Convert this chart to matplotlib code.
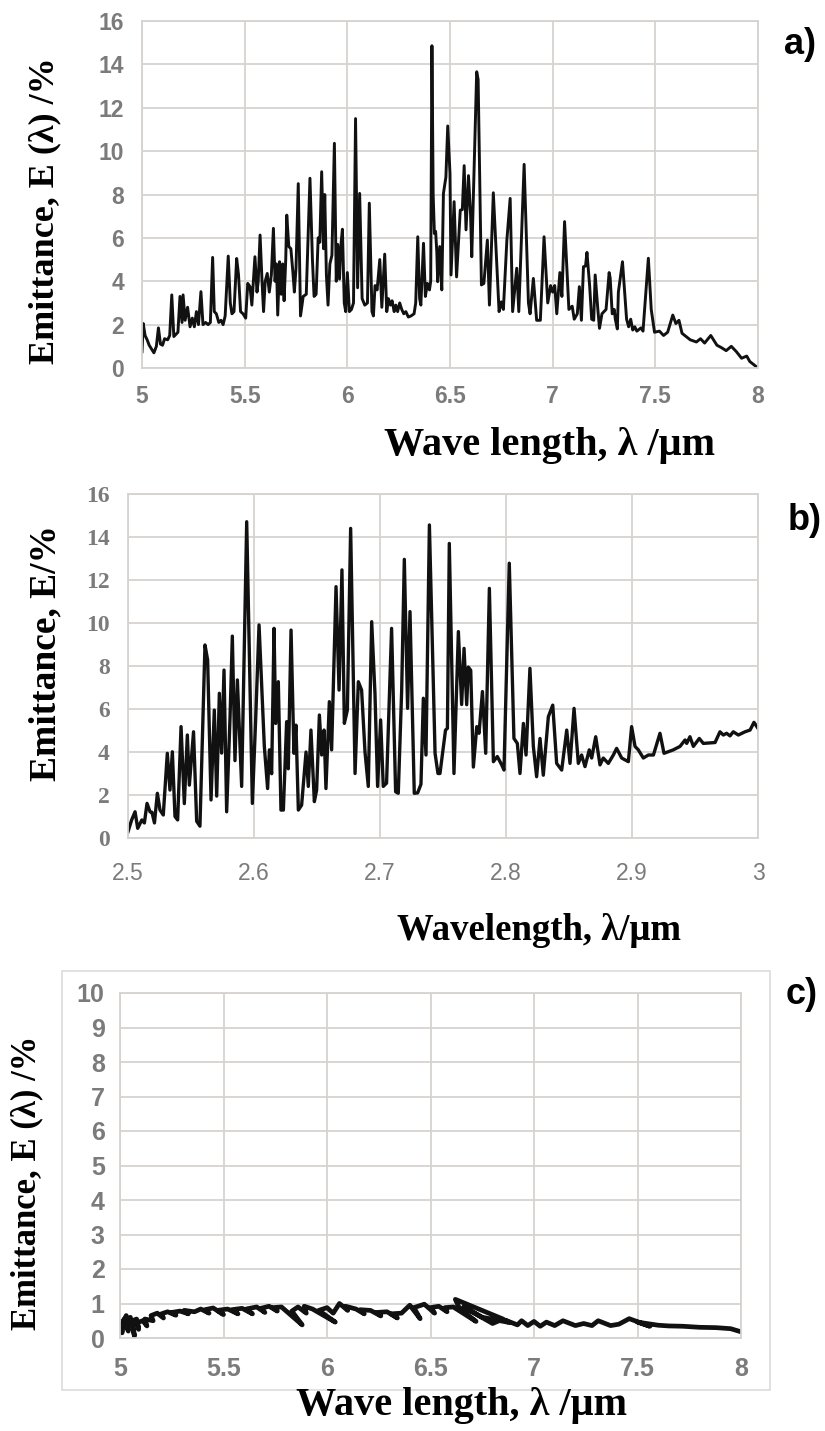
import matplotlib.pyplot as plt
from matplotlib.patches import Rectangle

# ---- panel a: emittance, 5-8 um ----
a_wl = [5.000, 5.006, 5.015, 5.025, 5.035, 5.045, 5.058, 5.070, 5.080, 5.090,
        5.100, 5.110, 5.125, 5.135, 5.145, 5.155, 5.165, 5.175, 5.185, 5.195,
        5.200, 5.210, 5.222, 5.234, 5.245, 5.255, 5.265, 5.275, 5.287, 5.297,
        5.310, 5.322, 5.333, 5.344, 5.352, 5.362, 5.374, 5.385, 5.395, 5.405,
        5.420, 5.430, 5.438, 5.448, 5.461, 5.470, 5.480, 5.492, 5.505, 5.515,
        5.526, 5.535, 5.550, 5.560, 5.566, 5.575, 5.585, 5.592, 5.600, 5.610,
        5.620, 5.630, 5.640, 5.648, 5.655, 5.661, 5.670, 5.678, 5.685, 5.692,
        5.700, 5.705, 5.715, 5.725, 5.735, 5.742, 5.750, 5.761, 5.772, 5.785,
        5.800, 5.818, 5.830, 5.838, 5.848, 5.858, 5.866, 5.875, 5.884, 5.890,
        5.898, 5.906, 5.915, 5.925, 5.937, 5.946, 5.953, 5.962, 5.968, 5.976,
        5.985, 5.992, 6.000, 6.010, 6.020, 6.030, 6.040, 6.050, 6.060, 6.072,
        6.085, 6.098, 6.107, 6.120, 6.127, 6.135, 6.145, 6.158, 6.168, 6.182,
        6.192, 6.200, 6.210, 6.218, 6.228, 6.236, 6.245, 6.255, 6.265, 6.275,
        6.285, 6.297, 6.310, 6.325, 6.333, 6.343, 6.352, 6.358, 6.371, 6.380,
        6.390, 6.400, 6.406, 6.412, 6.418, 6.424, 6.430, 6.436, 6.440, 6.450,
        6.460, 6.468, 6.480, 6.489, 6.500, 6.505, 6.520, 6.532, 6.550, 6.560,
        6.569, 6.578, 6.590, 6.600, 6.606, 6.630, 6.637, 6.653, 6.665, 6.682,
        6.692, 6.711, 6.739, 6.750, 6.760, 6.777, 6.793, 6.805, 6.825, 6.835,
        6.861, 6.882, 6.890, 6.906, 6.922, 6.940, 6.958, 6.976, 6.990, 7.000,
        7.010, 7.020, 7.035, 7.045, 7.058, 7.079, 7.095, 7.105, 7.120, 7.130,
        7.140, 7.150, 7.160, 7.167, 7.180, 7.190, 7.200, 7.207, 7.220, 7.228,
        7.240, 7.250, 7.260, 7.275, 7.280, 7.290, 7.300, 7.305, 7.315, 7.320,
        7.340, 7.360, 7.370, 7.380, 7.390, 7.400, 7.410, 7.430, 7.440, 7.466,
        7.480, 7.496, 7.520, 7.540, 7.560, 7.585, 7.600, 7.615, 7.630, 7.650,
        7.670, 7.700, 7.720, 7.740, 7.770, 7.800, 7.820, 7.845, 7.870, 7.895,
        7.920, 7.945, 7.960, 8.000]
a_em = [0.75, 2.05, 1.5, 1.3, 1.05, 0.9, 0.7, 1.0, 1.85, 1.1,
        1.05, 1.35, 1.3, 1.5, 3.37, 1.45, 1.55, 1.65, 3.3, 2.1,
        3.37, 2.2, 2.8, 1.9, 2.3, 1.9, 2.6, 2.0, 3.52, 2.0,
        2.1, 2.0, 2.1, 5.1, 2.6, 2.5, 2.1, 2.2, 2.0, 2.4,
        5.16, 3.0, 2.5, 2.6, 5.05, 4.3, 2.6, 2.5, 2.3, 3.9,
        3.75, 2.9, 5.13, 3.5, 4.0, 6.13, 3.9, 2.6, 4.0, 4.36,
        3.5, 4.3, 6.44, 4.0, 4.8, 2.44, 4.9, 3.4, 4.8, 3.1,
        5.0, 7.05, 5.6, 5.5, 4.4, 3.5, 4.6, 8.5, 2.4, 3.3,
        3.4, 8.75, 5.0, 3.3, 3.4, 6.0, 5.8, 9.05, 5.5, 8.0,
        4.3, 2.9, 4.8, 5.2, 10.36, 4.0, 5.7, 4.1, 5.6, 6.4,
        3.0, 2.6, 4.4, 2.6, 2.7, 3.0, 11.5, 3.7, 8.05, 3.2,
        2.9, 3.0, 7.6, 2.6, 2.4, 3.8, 3.6, 5.0, 2.8, 5.25,
        2.6, 3.2, 2.9, 3.1, 2.6, 2.9, 2.6, 3.0, 2.7, 2.5,
        2.6, 2.35, 2.4, 2.5, 3.0, 6.05, 3.2, 2.9, 5.75, 3.3,
        3.9, 3.6, 4.0, 14.86, 8.0, 6.2, 6.3, 5.3, 3.98, 5.6,
        3.6, 8.05, 8.8, 11.16, 8.96, 4.29, 7.67, 4.2, 7.28, 7.3,
        9.33, 6.37, 8.87, 7.1, 5.13, 13.66, 13.3, 3.83, 3.9, 5.9,
        2.9, 8.08, 2.6, 3.05, 2.7, 5.9, 7.82, 2.6, 4.6, 2.6,
        9.39, 3.0, 2.5, 4.13, 2.2, 2.2, 6.05, 3.0, 3.8, 3.5,
        3.8, 2.5, 4.4, 3.3, 6.75, 2.7, 2.85, 2.25, 2.5, 3.75,
        2.2, 4.67, 4.7, 5.33, 3.8, 2.25, 2.2, 4.29, 2.7, 1.83,
        2.5, 2.6, 2.7, 4.4, 4.15, 2.5, 2.7, 2.25, 1.8, 3.5,
        4.9, 2.25, 1.9, 2.25, 1.75, 1.9, 1.7, 1.85, 1.7, 5.06,
        2.7, 1.65, 1.7, 1.5, 1.65, 2.44, 2.05, 2.2, 1.6, 1.45,
        1.3, 1.2, 1.35, 1.15, 1.5, 1.05, 0.95, 0.8, 1.0, 0.75,
        0.45, 0.55, 0.3, 0.0]

# ---- panel b: emittance, 2.5-3 um ----
b_wl = [2.5000, 2.5029, 2.5056, 2.5077, 2.5110, 2.5130, 2.5151, 2.5175, 2.5190, 2.5210,
        2.5233, 2.5254, 2.5280, 2.5312, 2.5333, 2.5352, 2.5373, 2.5394, 2.5421, 2.5447,
        2.5471, 2.5487, 2.5520, 2.5545, 2.5571, 2.5611, 2.5632, 2.5659, 2.5685, 2.5704,
        2.5725, 2.5743, 2.5762, 2.5783, 2.5810, 2.5828, 2.5849, 2.5868, 2.5902, 2.5942,
        2.5987, 2.6013, 2.6040, 2.6082, 2.6108, 2.6122, 2.6140, 2.6159, 2.6172, 2.6193,
        2.6214, 2.6233, 2.6259, 2.6272, 2.6294, 2.6317, 2.6333, 2.6352, 2.6378, 2.6413,
        2.6431, 2.6452, 2.6479, 2.6497, 2.6519, 2.6537, 2.6556, 2.6571, 2.6598, 2.6616,
        2.6651, 2.6675, 2.6698, 2.6717, 2.6741, 2.6767, 2.6802, 2.6828, 2.6854, 2.6881,
        2.6907, 2.6934, 2.6960, 2.6981, 2.7005, 2.7026, 2.7052, 2.7092, 2.7124, 2.7145,
        2.7172, 2.7193, 2.7219, 2.7238, 2.7272, 2.7299, 2.7325, 2.7344, 2.7365, 2.7392,
        2.7437, 2.7460, 2.7476, 2.7520, 2.7535, 2.7550, 2.7587, 2.7622, 2.7648, 2.7667,
        2.7688, 2.7701, 2.7720, 2.7741, 2.7768, 2.7786, 2.7813, 2.7839, 2.7868, 2.7900,
        2.7931, 2.7966, 2.7984, 2.8026, 2.8063, 2.8090, 2.8111, 2.8138, 2.8159, 2.8190,
        2.8217, 2.8243, 2.8270, 2.8296, 2.8336, 2.8371, 2.8402, 2.8442, 2.8482, 2.8508,
        2.8540, 2.8574, 2.8600, 2.8627, 2.8661, 2.8680, 2.8712, 2.8746, 2.8772, 2.8812,
        2.8852, 2.8878, 2.8918, 2.8971, 2.8997, 2.9024, 2.9050, 2.9090, 2.9130, 2.9170,
        2.9222, 2.9254, 2.9328, 2.9381, 2.9421, 2.9434, 2.9460, 2.9487, 2.9534, 2.9566,
        2.9659, 2.9698, 2.9725, 2.9751, 2.9778, 2.9804, 2.9844, 2.9897, 2.9937, 2.9968,
        3.0000]
b_em = [0.29, 0.84, 1.22, 0.45, 0.84, 0.70, 1.61, 1.22, 1.20, 0.70,
        2.08, 1.30, 1.07, 3.94, 2.23, 4.01, 1.00, 0.84, 5.18, 1.60,
        4.79, 2.46, 4.94, 0.78, 0.55, 8.98, 8.28, 1.77, 5.95, 1.95,
        6.73, 3.95, 7.81, 1.22, 5.64, 9.39, 3.60, 7.35, 2.40, 14.71,
        1.61, 5.49, 9.91, 4.26, 2.30, 4.10, 2.99, 9.75, 5.33, 7.27,
        1.30, 1.30, 5.41, 3.22, 9.67, 3.94, 5.25, 1.30, 1.53, 4.00,
        2.40, 5.02, 1.69, 2.23, 5.72, 3.86, 5.02, 2.30, 6.34, 4.10,
        11.69, 6.88, 12.47, 5.33, 5.95, 14.40, 3.00, 7.27, 6.88, 4.00,
        2.40, 10.06, 6.73, 2.40, 5.49, 2.40, 2.55, 9.75, 2.15, 2.08,
        6.88, 12.96, 6.03, 10.53, 2.08, 2.10, 2.50, 6.50, 3.86, 14.56,
        3.94, 3.00, 3.00, 5.02, 5.10, 13.70, 3.00, 9.60, 6.21, 8.82,
        6.20, 7.95, 7.80, 3.30, 5.18, 4.87, 6.81, 3.94, 11.61, 3.55,
        3.79, 3.40, 3.16, 12.78, 4.63, 4.40, 3.00, 5.33, 3.86, 7.89,
        4.26, 2.85, 4.63, 2.92, 5.64, 6.18, 3.47, 3.16, 5.02, 3.47,
        6.03, 3.47, 3.86, 3.32, 4.10, 3.72, 4.71, 3.40, 3.72, 3.47,
        3.86, 4.17, 3.72, 3.55, 5.18, 4.26, 4.10, 3.72, 3.86, 3.86,
        4.87, 3.94, 4.10, 4.26, 4.56, 4.40, 4.71, 4.26, 4.63, 4.40,
        4.44, 4.94, 4.79, 4.87, 4.75, 4.94, 4.79, 4.94, 5.02, 5.38,
        5.10]

# ---- panel c: emittance, 5-8 um (scan order, not sorted) ----
c_wl = [5.00, 5.01, 5.02, 5.005, 5.03, 5.04, 5.025, 5.05, 5.07, 5.06,
        5.08, 5.09, 5.085, 5.11, 5.13, 5.12, 5.16, 5.15, 5.18, 5.21,
        5.20, 5.23, 5.27, 5.25, 5.29, 5.33, 5.31, 5.36, 5.39, 5.43,
        5.41, 5.45, 5.50, 5.47, 5.52, 5.57, 5.54, 5.59, 5.64, 5.61,
        5.66, 5.70, 5.68, 5.72, 5.76, 5.74, 5.78, 5.88, 5.83, 5.86,
        5.90, 5.89, 5.93, 6.04, 5.96, 6.00, 6.03, 6.06, 6.10, 6.09,
        6.14, 6.18, 6.16, 6.21, 6.26, 6.24, 6.29, 6.34, 6.31, 6.36,
        6.40, 6.45, 6.42, 6.47, 6.52, 6.50, 6.54, 6.58, 6.57, 6.61,
        6.72, 6.64, 6.62, 6.85, 6.80, 6.66, 6.75, 6.88, 6.86, 6.92,
        6.94, 6.97, 7.00, 7.03, 7.06, 7.10, 7.14, 7.20, 7.24, 7.28,
        7.31, 7.37, 7.41, 7.46, 7.56, 7.50, 7.60, 7.65, 7.72, 7.80,
        7.88, 7.95, 8.00]
c_em = [0.40, 0.15, 0.55, 0.30, 0.65, 0.20, 0.45, 0.60, 0.05, 0.50,
        0.55, 0.25, 0.45, 0.50, 0.35, 0.55, 0.50, 0.65, 0.72, 0.58,
        0.70, 0.76, 0.66, 0.74, 0.78, 0.70, 0.80, 0.76, 0.84, 0.72,
        0.82, 0.87, 0.68, 0.80, 0.84, 0.70, 0.82, 0.86, 0.70, 0.84,
        0.90, 0.74, 0.86, 0.92, 0.78, 0.88, 0.90, 0.38, 0.78, 0.90,
        0.72, 0.92, 0.84, 0.46, 0.80, 0.88, 0.72, 1.00, 0.80, 0.92,
        0.84, 0.70, 0.82, 0.80, 0.64, 0.74, 0.76, 0.58, 0.70, 0.72,
        0.95, 0.56, 0.88, 0.98, 0.72, 0.88, 0.92, 0.76, 0.88, 0.90,
        0.48, 0.86, 1.12, 0.55, 0.42, 0.90, 0.60, 0.45, 0.52, 0.38,
        0.50, 0.36, 0.48, 0.34, 0.46, 0.36, 0.50, 0.36, 0.42, 0.36,
        0.50, 0.36, 0.40, 0.56, 0.34, 0.46, 0.37, 0.35, 0.34, 0.31,
        0.30, 0.27, 0.18]

grey = '#7b7b7b'
gridc = '#d6d2cf'
line = '#111111'
W, H = 825, 1431


def box(l, t, r, b):
    return [l / W, 1 - b / H, (r - l) / W, (b - t) / H]


def style(ax, xlim, ylim, xt, yt):
    ax.set_xlim(xlim)
    ax.set_ylim(ylim)
    ax.set_xticks(xt)
    ax.set_yticks(yt)
    ax.grid(True, color=gridc, linewidth=1.3)
    ax.set_axisbelow(True)
    for s in ax.spines.values():
        s.set_color(gridc)
        s.set_linewidth(1.3)
    ax.tick_params(length=0, colors=grey)


fig = plt.figure(figsize=(W / 100, H / 100), dpi=100)

# a)
ax = fig.add_axes(box(142, 21, 758, 368))
ax.plot(a_wl, a_em, color=line, linewidth=2.1)
style(ax, (5, 8), (0, 16), [5, 5.5, 6, 6.5, 7, 7.5, 8], range(0, 17, 2))
ax.set_xticklabels(['5', '5.5', '6', '6.5', '7', '7.5', '8'])
ax.tick_params(axis='y', pad=13)
ax.tick_params(axis='x', pad=12)
for t in ax.get_xticklabels() + ax.get_yticklabels():
    t.set_fontfamily('Liberation Sans')
    t.set_fontweight('bold')
    t.set_fontsize(16.5)
fig.text(550 / W, 1 - 446 / H, 'Wave length, \u03bb /\u03bcm', family='Liberation Serif',
         weight='bold', size=29, ha='center', va='center')
fig.text(45 / W, 1 - 211 / H, 'Emittance, E (\u03bb) /%', family='Liberation Serif',
         weight='bold', size=26, ha='center', va='center', rotation=90)
fig.text(800 / W, 1 - 45 / H, 'a)', family='Liberation Sans', weight='bold', size=26,
         ha='center', va='center')

# b)
ax = fig.add_axes(box(128, 494, 758, 838))
ax.plot(b_wl, b_em, color=line, linewidth=2.4)
style(ax, (2.5, 3.0), (0, 16), [2.5, 2.6, 2.7, 2.8, 2.9, 3.0], range(0, 17, 2))
ax.set_xticklabels(['2.5', '2.6', '2.7', '2.8', '2.9', '3'])
ax.tick_params(axis='y', pad=13)
ax.tick_params(axis='x', pad=17)
for t in ax.get_xticklabels():
    t.set_fontfamily('Liberation Sans')
    t.set_fontsize(16.5)
for t in ax.get_yticklabels():
    t.set_fontfamily('Liberation Serif')
    t.set_fontweight('bold')
    t.set_fontsize(17)
fig.text(539 / W, 1 - 930 / H, 'Wavelength, \u03bb/\u03bcm', family='Liberation Serif',
         weight='bold', size=26.5, ha='center', va='center')
fig.text(46 / W, 1 - 653 / H, 'Emittance, E/%', family='Liberation Serif',
         weight='bold', size=27, ha='center', va='center', rotation=90)
fig.text(805 / W, 1 - 520 / H, 'b)', family='Liberation Sans', weight='bold', size=26,
         ha='center', va='center')

# c)
fig.patches.append(Rectangle((62 / W, 1 - 1390 / H), 708 / W, 419 / H, fill=False,
                             edgecolor='#dcdcdc', linewidth=1.2, transform=fig.transFigure))
ax = fig.add_axes(box(120, 993, 741, 1338))
ax.plot(c_wl, c_em, color=line, linewidth=3.4)
style(ax, (5, 8), (0, 10), [5, 5.5, 6, 6.5, 7, 7.5, 8], range(0, 11))
ax.set_xticklabels(['5', '5.5', '6', '6.5', '7', '7.5', '8'])
ax.tick_params(axis='y', pad=11)
ax.tick_params(axis='x', pad=14)
for t in ax.get_xticklabels() + ax.get_yticklabels():
    t.set_fontfamily(['Liberation Sans Narrow', 'Liberation Sans'])
    t.set_fontweight('bold')
    t.set_fontsize(18)
fig.text(462 / W, 1 - 1405 / H, 'Wave length, \u03bb /\u03bcm', family='Liberation Serif',
         weight='bold', size=29, ha='center', va='center')
fig.text(27 / W, 1 - 1183 / H, 'Emittance, E (\u03bb) /%', family='Liberation Serif',
         weight='bold', size=25, ha='center', va='center', rotation=90)
fig.text(802 / W, 1 - 995 / H, 'c)', family=['Liberation Sans Narrow', 'Liberation Sans'],
         weight='bold', size=26, ha='center', va='center')

fig.savefig('out.png', dpi=100)
